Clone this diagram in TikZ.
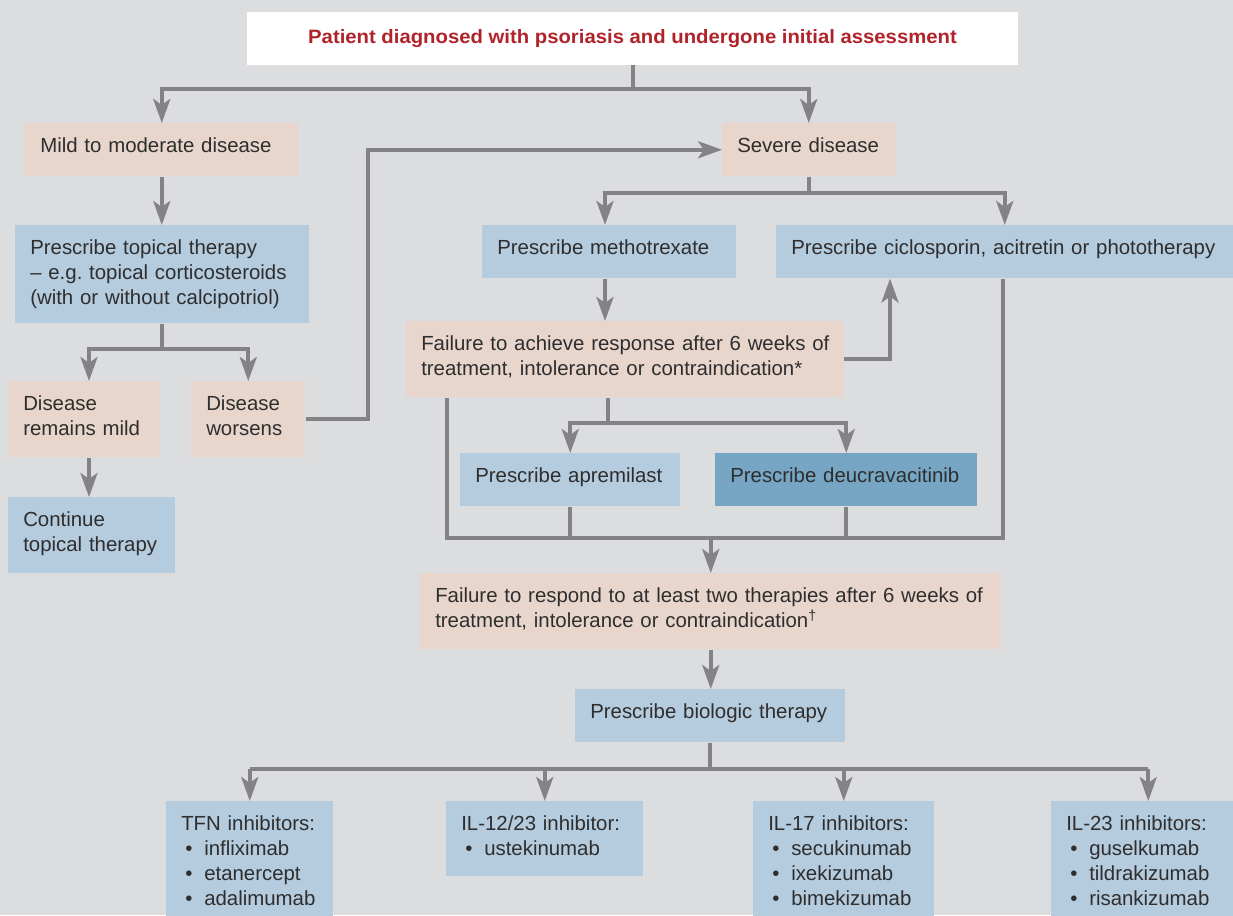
\documentclass[tikz,border=0pt]{standalone}
\usepackage{fontspec}
\setmainfont{Liberation Sans}
\newfontfamily\titlefont{Liberation Sans}[FakeStretch=1.05]
\usetikzlibrary{arrows.meta,calc}
\frenchspacing
\definecolor{bg}{HTML}{DCDDDF}
\definecolor{peach}{HTML}{E8D6CD}
\definecolor{lblue}{HTML}{B5CBDE}
\definecolor{dblue}{HTML}{76A6C4}
\definecolor{conn}{HTML}{838385}
\definecolor{txt}{HTML}{2E2E2E}
\definecolor{titlered}{HTML}{B0232A}
\newcommand\bulitem{\hspace*{3pt}\makebox[14.25pt][l]{•}}
\tikzset{
 box/.style={anchor=north west, inner xsep=11.25pt, inner ysep=0pt, align=left,
   text=txt, font=\fontsize{15.3pt}{18.75pt}\selectfont\frenchspacing, text height=21.75pt,
   execute at begin node={\rightskip=-300pt plus 1fil}},
 peachbox/.style={box, fill=peach},
 bluebox/.style={box, fill=lblue},
 darkbox/.style={box, fill=dblue},
 hone/.style={text depth=18pt},
 htwo/.style={text depth=35.25pt},
 line/.style={draw=conn, line width=3pt},
 arr/.style={line, -{Stealth[length=18pt,width=12.75pt,inset=4.5pt]}},
}
\begin{document}
\begin{tikzpicture}[x=0.75pt,y=-0.75pt]
\fill[bg] (0,0) rectangle (1233,915);
\useasboundingbox (0,0) rectangle (1233,915);
\clip (0,0) rectangle (1233,915);

\node[fill=white, minimum width=578.25pt, minimum height=39.75pt, inner sep=0pt,
  font=\titlefont\bfseries\fontsize{14.5pt}{17pt}\selectfont, text=titlered]
  (title) at (632.5,38.5) {Patient diagnosed with psoriasis and undergone initial assessment};

\node[peachbox, hone, text width=182.25pt] (mild) at (25,123) {Mild to moderate disease};
\node[peachbox, hone, text width=107.25pt] (severe) at (722,123) {Severe disease};
\node[bluebox, text depth=51.75pt, text width=198pt] (topical) at (15,225)
  {Prescribe topical therapy\\– e.g.\ topical corticosteroids\\(with or without calcipotriol)};
\node[bluebox, hone, text width=168pt] (meth) at (482,225) {Prescribe methotrexate};
\node[bluebox, hone, text width=320.25pt] (cicl) at (776,225) {Prescribe ciclosporin, acitretin or phototherapy};
\node[peachbox, htwo, text width=305.25pt] (fail1) at (406,321)
  {Failure to achieve response after 6 weeks of\\treatment, intolerance or contraindication*};
\node[peachbox, htwo, text width=90.75pt] (mild2) at (8,381) {Disease\\remains mild};
\node[peachbox, htwo, text width=63pt] (worse) at (191,381) {Disease\\worsens};
\node[bluebox, htwo, text width=102.75pt] (cont) at (8,497) {Continue\\topical therapy};
\node[bluebox, hone, text width=142.5pt] (apr) at (460,453) {Prescribe apremilast};
\node[darkbox, hone, text width=174pt] (deuc) at (715,453) {Prescribe deucravacitinib};
\node[peachbox, htwo, text width=413.25pt] (fail2) at (420,573)
  {Failure to respond to at least two therapies after 6 weeks of\\treatment, intolerance or contraindication\textsuperscript{†}};
\node[bluebox, hone, text width=180pt] (bio) at (575,689) {Prescribe biologic therapy};
\node[bluebox, text depth=75.75pt, text width=102.75pt] (tfn) at (166,801)
  {TFN inhibitors:\\\bulitem infliximab\\\bulitem etanercept\\\bulitem adalimumab};
\node[bluebox, text depth=34.5pt, text width=125.25pt] (il12) at (446,801)
  {IL-12/23 inhibitor:\\\bulitem ustekinumab};
\node[bluebox, text depth=75.75pt, text width=113.25pt] (il17) at (753,801)
  {IL-17 inhibitors:\\\bulitem secukinumab\\\bulitem ixekizumab\\\bulitem bimekizumab};
\node[bluebox, text depth=75.75pt, text width=123pt] (il23) at (1051,801)
  {IL-23 inhibitors:\\\bulitem guselkumab\\\bulitem tildrakizumab\\\bulitem risankizumab};

% title split
\draw[arr] (title.south) -- ++(0,24) coordinate (tsplit) -| (mild.north);
\draw[arr] (tsplit) -| (severe.north);
% mild -> topical
\draw[arr] (mild.south) -- (mild.south |- topical.north);
% topical split
\coordinate (m2top) at ($(mild2.north west)+(81,0)$);
\draw[arr] (topical.south) -- ++(0,25) coordinate (tpsplit) -| (m2top);
\draw[arr] (tpsplit) -| (worse.north);
\draw[arr] (m2top |- mild2.south) -- (m2top |- cont.north);
% worsens -> severe
\draw[arr] (worse.east) -- ++(62,0) |- (severe.west);
% severe split
\coordinate (methx) at ($(meth.north west)+(123,0)$);
\draw[arr] (severe.south) -- ++(0,16) coordinate (ssplit) -| (methx);
\draw[arr] (ssplit) -| (cicl.north);
% meth -> fail1
\draw[arr] (methx |- meth.south) -- (methx |- fail1.north);
% fail1 -> ciclosporin
\draw[arr] (fail1.east) -| ($(cicl.south west)+(114,0)$);
% fail1 split
\draw[arr] ($(fail1.south west)+(202,0)$) -- ++(0,25) coordinate (f1split) -| (apr.north);
\draw[arr] (f1split) -| (deuc.north);
% merge
\coordinate (mergeL) at ($(fail1.south west)+(41,140)$);
\draw[line] ($(fail1.south west)+(41,0)$) -- (mergeL) -| ($(cicl.south west)+(227,0)$);
\draw[line] (apr.south) -- (apr.south |- mergeL);
\draw[line] (deuc.south) -- (deuc.south |- mergeL);
\draw[arr] (fail2.north |- mergeL) -- (fail2.north);
% fail2 -> bio
\draw[arr] (fail2.south) -- (fail2.south |- bio.north);
% bio split
\draw[line] (bio.south) -- ++(0,26) coordinate (bsplit);
\draw[line] (tfn.north |- bsplit) -- (il23.north |- bsplit);
\draw[arr] (tfn.north |- bsplit) -- (tfn.north);
\draw[arr] (il12.north |- bsplit) -- (il12.north);
\draw[arr] (il17.north |- bsplit) -- (il17.north);
\draw[arr] (il23.north |- bsplit) -- (il23.north);
\end{tikzpicture}
\end{document}
